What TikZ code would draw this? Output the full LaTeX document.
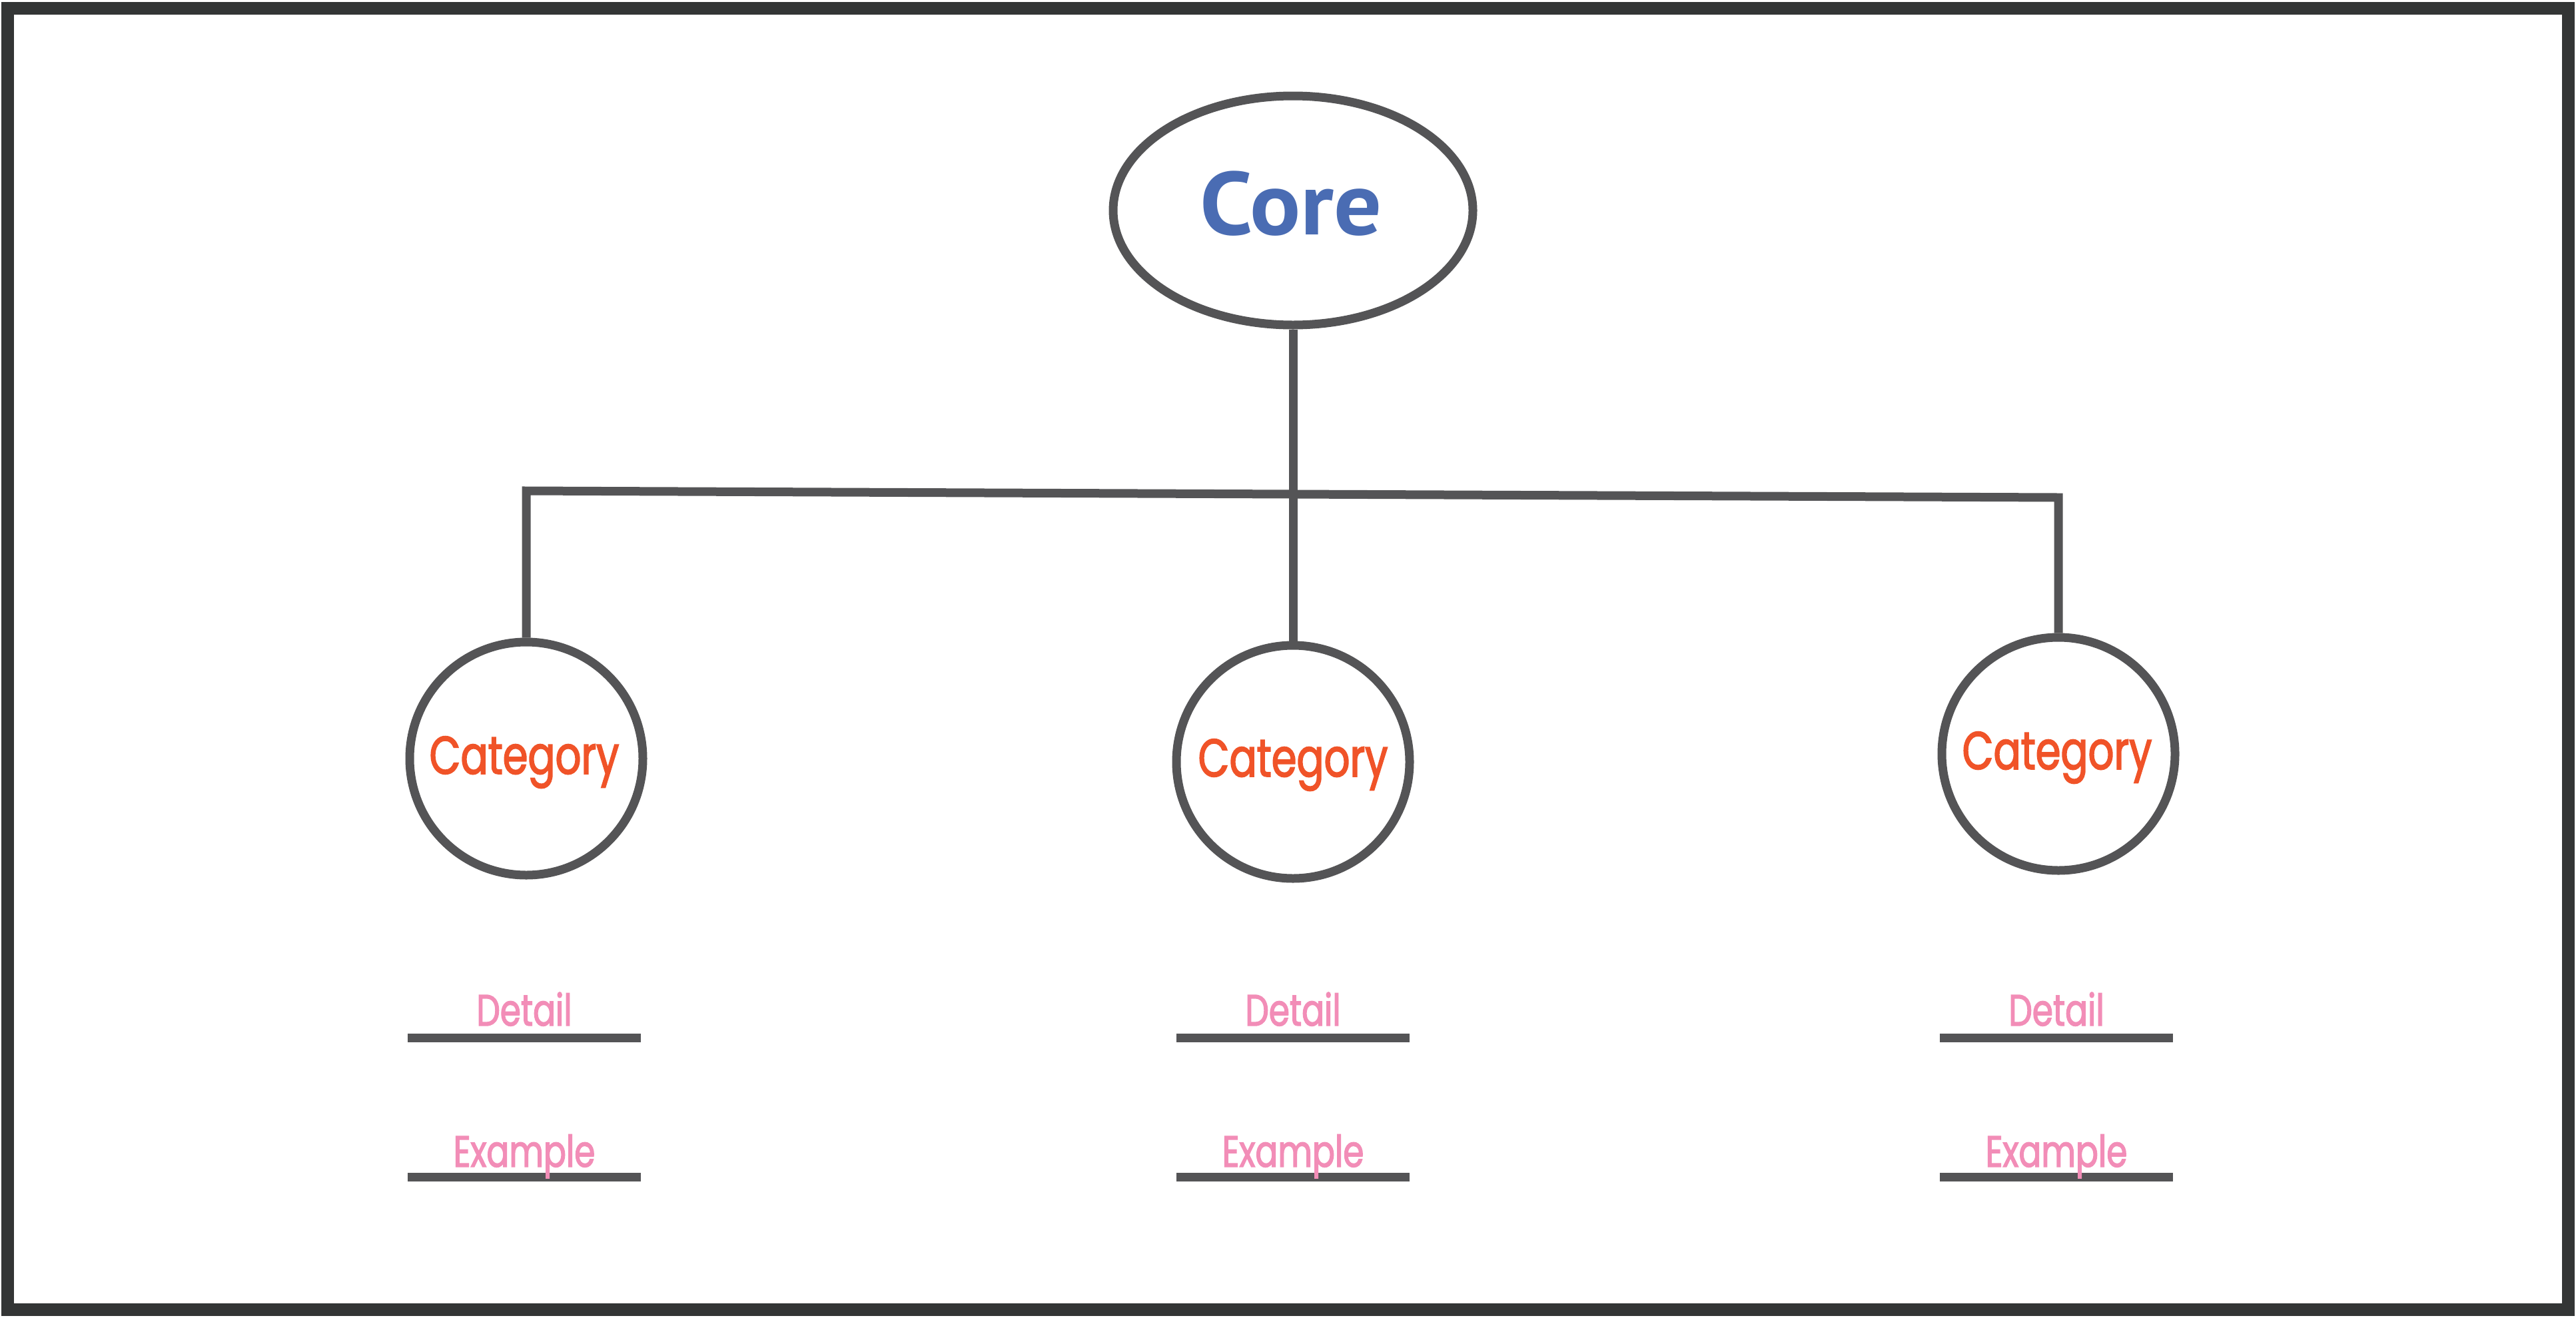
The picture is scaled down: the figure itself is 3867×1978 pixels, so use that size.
\documentclass[tikz,border=0pt]{standalone}
\usepackage{fontspec}
\usetikzlibrary{shapes.geometric}
\newfontfamily\handfont[FakeStretch=0.76,FakeBold=2]{Poppins}
\newfontfamily\corefont[FakeStretch=1.06]{PT Sans}
\definecolor{framec}{HTML}{333535}
\definecolor{linec}{HTML}{545456}
\definecolor{corec}{HTML}{4A6CB3}
\definecolor{catc}{HTML}{F05328}
\definecolor{detc}{HTML}{F28DB7}
\tikzset{
  conn/.style={draw=linec, line width=13pt},
  catnode/.style={circle, draw=linec, line width=13pt, minimum size=350pt, inner sep=0pt},
  cattext/.style={anchor=base, text=catc, font=\handfont\fontsize{80}{96}\selectfont, inner sep=0pt},
  dettext/.style={anchor=base, text=detc, font=\handfont\fontsize{66}{80}\selectfont, inner sep=0pt},
}
\begin{document}
\begin{tikzpicture}[x=1pt,y=-1pt]
\useasboundingbox (0,0) rectangle (3867,1978);
\draw[framec, line width=19pt] (11.5,12.5) rectangle (3855.5,1966);
% core
\node[ellipse, draw=linec, line width=13pt, minimum width=540pt, minimum height=344pt, inner sep=0pt] (core) at (1941,316) {};
\node[anchor=base, text=corec, font=\corefont\bfseries\fontsize{134}{150}\selectfont, inner sep=0pt] (coret) at (1938,352) {Core};
% categories
\node[catnode] (c1) at (790,1139) {};
\node[catnode] (c2) at (1941,1144) {};
\node[catnode] (c3) at (3090,1132) {};
\node[cattext] (t1) at (787,1162) {Category};
\node[cattext] (t2) at (1941,1166) {Category};
\node[cattext] (t3) at (3088,1155) {Category};
% connectors
\coordinate (hl) at (790,737);
\coordinate (hr) at (3090,747);
\draw[conn] (core.south) -- (c2.north);
\draw[conn, line join=miter] (c1.north) -- (hl) -- (hr) -- (c3.north);
% detail / example lines
\foreach \n/\cx in {1/787, 2/1941, 3/3087}{
  \coordinate (dl\n) at (\cx-175,1558);
  \coordinate (dr\n) at (\cx+175,1558);
  \coordinate (el\n) at (\cx-175,1767);
  \coordinate (er\n) at (\cx+175,1767);
  \draw[conn] (dl\n) -- (dr\n);
  \draw[conn] (el\n) -- (er\n);
  \node[dettext] (d\n) at (\cx,1540) {Detail};
  \node[dettext] (e\n) at (\cx,1752) {Example};
}
\end{tikzpicture}
\end{document}
